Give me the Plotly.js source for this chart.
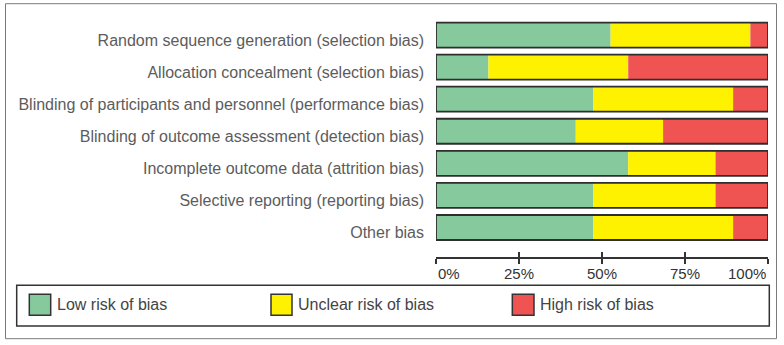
<!DOCTYPE html>
<html>
<head>
<meta charset="utf-8">
<script src="https://cdn.plot.ly/plotly-3.0.1.min.js"></script>
<style>html,body{margin:0;padding:0;background:#fff;}#chart{width:784px;height:345px;}</style>
</head>
<body>
<div id="chart"></div>
<script>
// ---- data (percent of studies) ----
var domains = [
  "Random sequence generation (selection bias)",
  "Allocation concealment (selection bias)",
  "Blinding of participants and personnel (performance bias)",
  "Blinding of outcome assessment (detection bias)",
  "Incomplete outcome data (attrition bias)",
  "Selective reporting (reporting bias)",
  "Other bias"
];
var lowRisk     = [52.6, 15.8, 47.4, 42.1, 57.9, 47.4, 47.4];
var unclearRisk = [42.1, 42.1, 42.1, 26.3, 26.3, 36.8, 42.1];
var highRisk    = [5.3, 42.1, 10.5, 31.6, 15.8, 15.8, 10.5];
var seriesNames = ["Low risk of bias", "Unclear risk of bias", "High risk of bias"];
var tickVals = [0, 25, 50, 75, 100];
var tickLabels = ["0%", "25%", "50%", "75%", "100%"];

// ---- layout geometry (pixels) ----
var W = 784, H = 345;
var L = 436, R = 768, T = 18.8, B = 256.8;
function px2x(p){ return (p - L) / (R - L); }
function py2y(p){ return (B - p) / (B - T); }

var colors = ["#86c99d", "#fff200", "#ef5352"];
var seriesVals = [lowRisk, unclearRisk, highRisk];

var traces = [];
var bases = domains.map(function(){ return 0; });
seriesVals.forEach(function(vals, k){
  traces.push({
    type: "bar", orientation: "h", name: seriesNames[k],
    y: domains, x: vals, base: bases.slice(),
    width: 0.78,
    marker: {color: colors[k], line: {width: 0}},
    showlegend: false, hoverinfo: "skip"
  });
  bases = bases.map(function(b, i){ return b + vals[i]; });
});
// outline around each whole bar
traces.push({
  type: "bar", orientation: "h", y: domains, x: bases, base: domains.map(function(){return 0;}),
  width: 0.78,
  marker: {color: "rgba(0,0,0,0)", line: {width: 1.8, color: "#2e2e2e"}},
  showlegend: false, hoverinfo: "skip"
});
// invisible helper trace for the upper half of tick marks
traces.push({type: "scatter", x: [0, 100], y: [domains[0], domains[0]], xaxis: "x2", yaxis: "y",
  mode: "markers", marker: {opacity: 0}, showlegend: false, hoverinfo: "skip"});

var shapes = [];
var annotations = [];
// outer frame
shapes.push({type: "rect", xref: "paper", yref: "paper",
  x0: px2x(5.5), x1: px2x(776.5), y0: py2y(3.5), y1: py2y(338.5),
  line: {color: "#7a7a7a", width: 1}, fillcolor: "rgba(0,0,0,0)", layer: "below"});
// legend box
shapes.push({type: "rect", xref: "paper", yref: "paper",
  x0: px2x(16.7), x1: px2x(769.3), y0: py2y(285), y1: py2y(325.7),
  line: {color: "#333333", width: 1.5}, fillcolor: "rgba(0,0,0,0)"});
var legSq = [[29.3, 50.7, 55], [271, 292, 296], [512.3, 534, 538.3]];
seriesNames.forEach(function(n, k){
  shapes.push({type: "rect", xref: "paper", yref: "paper",
    x0: px2x(legSq[k][0]), x1: px2x(legSq[k][1]), y0: py2y(294), y1: py2y(315),
    line: {color: "#333333", width: 1.5}, fillcolor: colors[k]});
  annotations.push({xref: "paper", yref: "paper", x: px2x(legSq[k][2]), y: py2y(304.5),
    xanchor: "left", yanchor: "middle", showarrow: false, text: n,
    font: {family: "Liberation Sans, Arial, sans-serif", size: 16, color: "#444444"}});
});
// x tick labels (first left-aligned, last right-aligned, as in the figure)
tickVals.forEach(function(v, i){
  annotations.push({xref: "x", yref: "paper", x: v, y: 0, yshift: -16,
    xanchor: i === 0 ? "left" : (i === tickVals.length - 1 ? "right" : "center"),
    yanchor: "middle", showarrow: false, text: tickLabels[i],
    font: {family: "Liberation Sans, Arial, sans-serif", size: 15, color: "#333333"}});
});

var layout = {
  width: W, height: H,
  margin: {l: L, r: W - R, t: T, b: H - B, pad: 0},
  paper_bgcolor: "#ffffff", plot_bgcolor: "#ffffff",
  barmode: "overlay",
  showlegend: false,
  font: {family: "Liberation Sans, Arial, sans-serif"},
  xaxis: {range: [0, 100], showgrid: false, zeroline: false, showline: true,
    linecolor: "#333333", linewidth: 1.5, ticks: "outside", ticklen: 5, tickwidth: 1.5,
    tickcolor: "#333333", tickvals: tickVals, showticklabels: false, fixedrange: true},
  xaxis2: {range: [0, 100], overlaying: "x", side: "bottom", anchor: "y", showgrid: false,
    zeroline: false, showline: false, ticks: "inside", ticklen: 5, tickwidth: 1.5,
    tickcolor: "#333333", tickvals: tickVals, showticklabels: false},
  yaxis: {type: "category", categoryarray: domains, range: [6.92, -0.5],
    showgrid: false, zeroline: false, showline: false, ticks: "",
    ticklabelstandoff: 11, ticklabelshift: -5,
    tickfont: {family: "Liberation Sans, Arial, sans-serif", size: 16, color: "#5c5c5c"}},
  shapes: shapes,
  annotations: annotations
};

Plotly.newPlot("chart", traces, layout, {displayModeBar: false, staticPlot: true});
</script>
</body>
</html>
